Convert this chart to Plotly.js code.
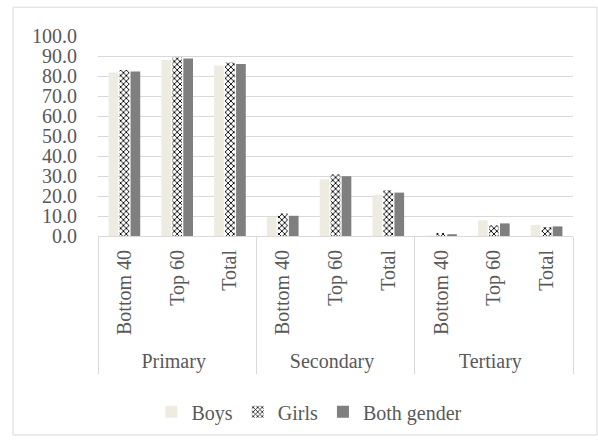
<!DOCTYPE html>
<html>
<head>
<meta charset="utf-8">
<script src="https://cdn.plot.ly/plotly-3.0.1.min.js"></script>
<style>
  html, body { margin: 0; padding: 0; background: #fff; }
  #chart { width: 598px; height: 442px; }
</style>
</head>
<body>
<div id="chart"></div>
<script>
// Data
const levels = ["Primary", "Primary", "Primary", "Secondary", "Secondary", "Secondary", "Tertiary", "Tertiary", "Tertiary"];
const groups = ["Bottom 40", "Top 60", "Total", "Bottom 40", "Top 60", "Total", "Bottom 40", "Top 60", "Total"];
const boys   = [81.8, 88.0, 85.2, 9.4, 28.4, 20.6, 0.3, 7.8, 5.5];
const girls  = [83.0, 89.3, 86.7, 11.3, 30.8, 22.9, 1.5, 5.3, 4.5];
const both   = [82.3, 88.7, 86.0, 10.1, 29.9, 21.7, 0.9, 6.3, 4.8];
const seriesNames = ["Boys", "Girls", "Both gender"];

const font = { family: "'Liberation Serif', 'Times New Roman', serif", size: 20, color: "#595959" };
const xcat = [levels, groups];

const traces = [
  { type: "bar", name: seriesNames[0], x: xcat, y: boys,
    marker: { color: "#EEECE1", line: { width: 0 } } },
  { type: "bar", name: seriesNames[1], x: xcat, y: girls,
    marker: { color: "#ffffff", line: { width: 0 },
      pattern: { shape: "x", fgcolor: "#000000", bgcolor: "#ffffff", size: 4, solidity: 0.4 } } },
  { type: "bar", name: seriesNames[2], x: xcat, y: both,
    marker: { color: "#7F7F7F", line: { width: 0 } } }
];

const layout = {
  width: 598, height: 442,
  margin: { l: 98, r: 25, t: 36, b: 205 },
  paper_bgcolor: "#ffffff", plot_bgcolor: "#ffffff",
  font: font,
  barmode: "group",
  bargap: 0.375,
  bargroupgap: 0.12,
  showlegend: true,
  legend: {
    orientation: "h", x: 0.445, xanchor: "center", y: -0.87, yanchor: "middle",
    font: font, itemwidth: 30, tracegroupgap: 0
  },
  xaxis: {
    type: "multicategory",
    tickangle: -90,
    showline: true, linecolor: "#d9d9d9", linewidth: 1,
    showdividers: true, dividercolor: "#d9d9d9", dividerwidth: 1,
    ticks: "", tickfont: font, showgrid: false, ticklabelstandoff: 5
  },
  yaxis: {
    range: [0, 100], dtick: 10, tickformat: ".1f",
    showgrid: true, gridcolor: "#d9d9d9", gridwidth: 1,
    zeroline: false, showline: false, ticks: "",
    tickfont: font, ticklabelstandoff: 20
  },
  shapes: [
    { type: "rect", xref: "paper", yref: "paper",
      x0: -0.179, x1: 1.0505, y0: -0.995, y1: 1.144,
      line: { color: "#d9d9d9", width: 1 }, fillcolor: "rgba(0,0,0,0)", layer: "below" }
  ]
};

Plotly.newPlot("chart", traces, layout, { displayModeBar: false, staticPlot: true });
</script>
</body>
</html>
